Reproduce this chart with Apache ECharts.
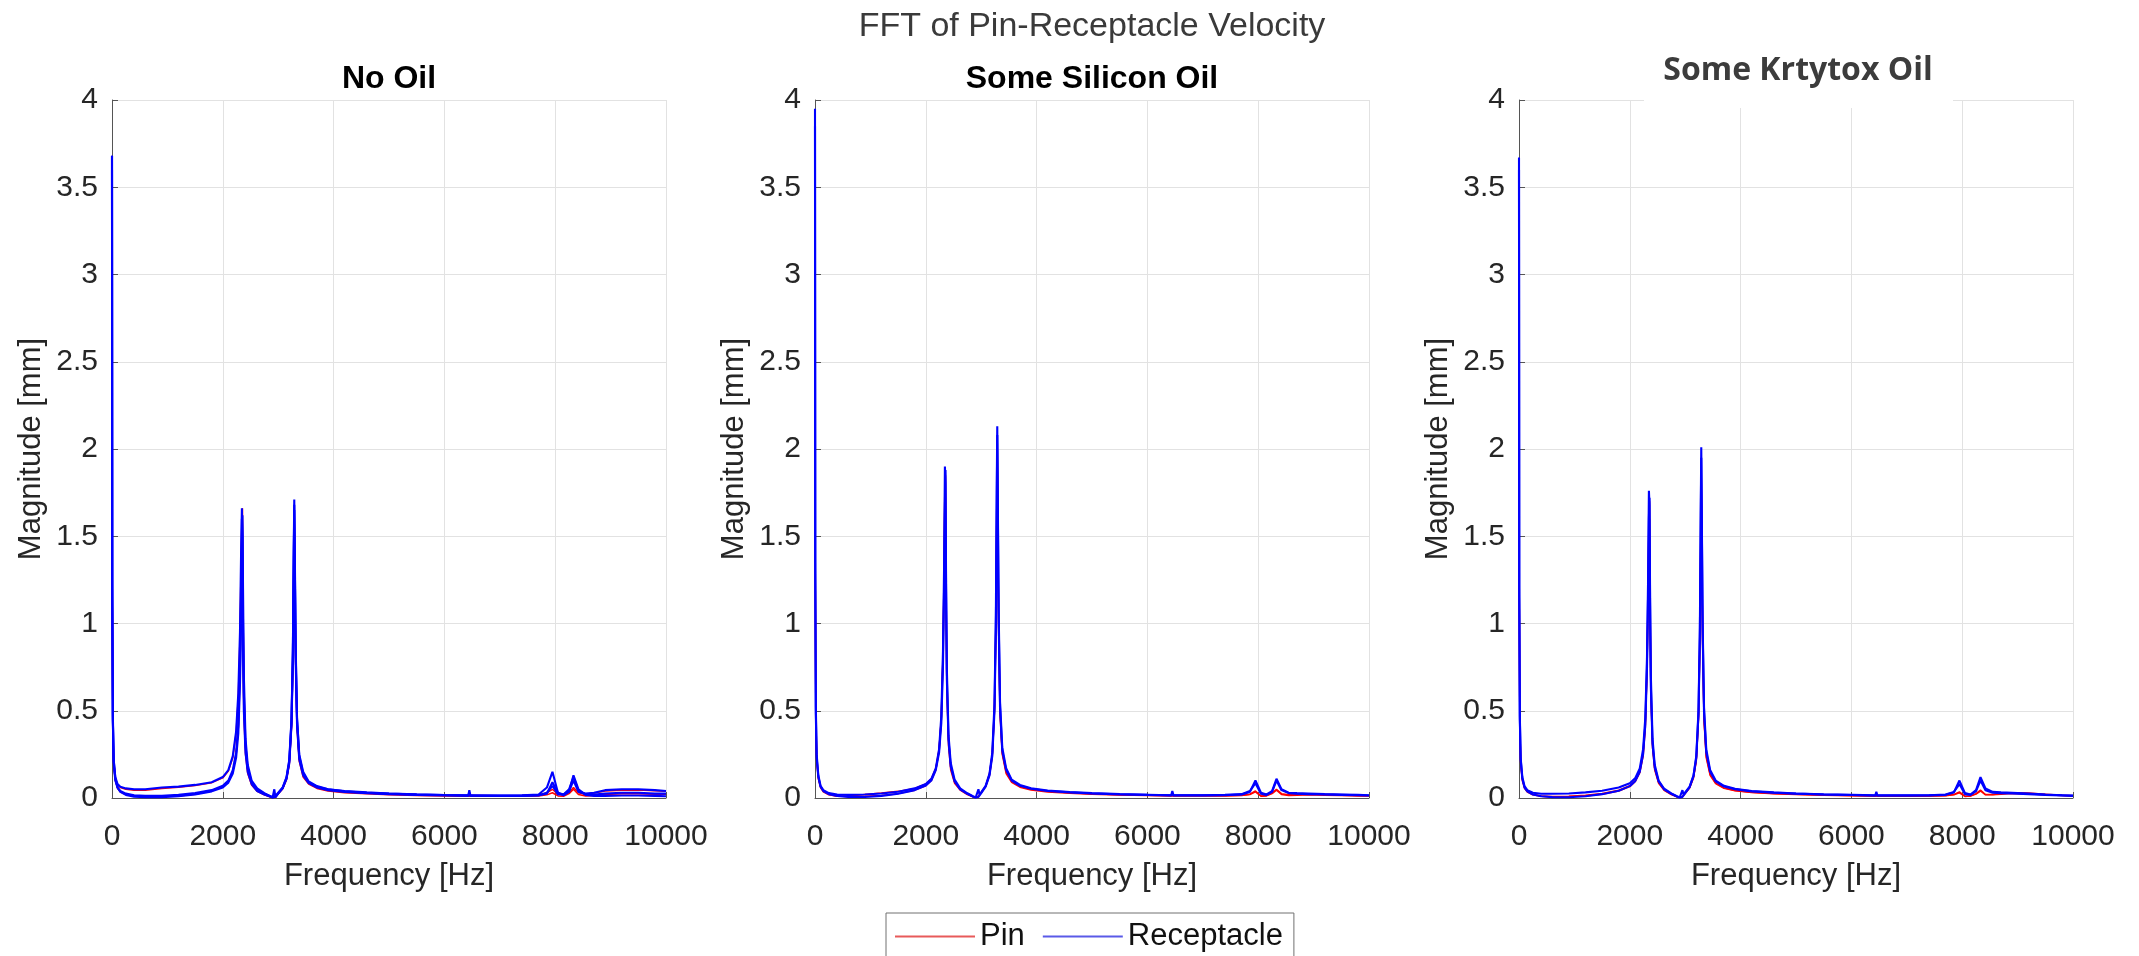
<!DOCTYPE html>
<html>
<head>
<meta charset="utf-8">
<script src="https://cdn.jsdelivr.net/npm/echarts@6/dist/echarts.min.js"></script>
<style>
html,body{margin:0;padding:0;background:#fff;}
#chart{width:2139px;height:956px;}
</style>
</head>
<body>
<div id="chart"></div>
<script>
// Frequency samples (Hz) shared by all traces
const freq = [0,5,15,30,60,100,150,250,400,600,
  900,1200,1500,1800,2000,2100,2180,2240,2280,2310,
  2330,2345,2355,2365,2380,2410,2450,2520,2620,2750,
  2850,2900,2930,2950,2970,3000,3080,3150,3200,3240,
  3265,3280,3290,3300,3315,3340,3380,3450,3550,3700,
  3900,4200,4600,5000,5500,6000,6430,6450,6470,7000,
  7400,7700,7850,7950,8050,8150,8250,8330,8420,8550,
  8700,8900,9200,9500,9800,10000];

const panelTitles = ['No Oil', 'Some Silicon Oil', 'Some Krtytox Oil'];
const xTicks = [0, 2000, 4000, 6000, 8000, 10000];
const yTicks = [0, 0.5, 1, 1.5, 2, 2.5, 3, 3.5, 4];

// Panel 1: No Oil
const noOilPinA = [3.62,1.15,0.42,0.2,0.1,0.055,0.035,0.02,0.012,0.008,
 0.008,0.012,0.022,0.04,0.065,0.095,0.15,0.25,0.4,0.72,
 1.12,1.55,1.66,1.1,0.62,0.3,0.16,0.085,0.045,0.02,
 0.008,0.002,0.003,0.008,0.016,0.026,0.055,0.11,0.2,0.42,
 0.8,1.3,1.55,1.25,0.78,0.4,0.21,0.12,0.08,0.055,
 0.04,0.03,0.024,0.019,0.015,0.012,0.01,0.012,0.01,0.01,
 0.01,0.012,0.018,0.03,0.012,0.01,0.025,0.05,0.02,0.012,
 0.015,0.02,0.025,0.025,0.022,0.022];
const noOilPinB = [3.55,1.1,0.44,0.21,0.115,0.075,0.06,0.05,0.045,0.045,
 0.055,0.062,0.072,0.088,0.115,0.155,0.23,0.37,0.58,0.92,
 1.35,1.6,1.2,0.82,0.48,0.25,0.14,0.075,0.038,0.018,
 0.007,0.003,0.01,0.004,0.014,0.024,0.052,0.105,0.19,0.4,
 0.76,1.25,1.58,1.3,0.82,0.43,0.23,0.135,0.088,0.062,
 0.048,0.036,0.028,0.023,0.019,0.016,0.014,0.014,0.014,0.013,
 0.014,0.018,0.03,0.05,0.02,0.018,0.03,0.06,0.03,0.022,
 0.028,0.04,0.045,0.046,0.042,0.038];
const noOilRecA = [3.68,1.2,0.45,0.2,0.1,0.06,0.04,0.025,0.015,0.012,
 0.012,0.018,0.028,0.045,0.07,0.1,0.16,0.26,0.42,0.75,
 1.15,1.6,1.5,1.0,0.6,0.3,0.17,0.09,0.05,0.025,
 0.01,0.003,0.002,0.01,0.02,0.03,0.06,0.12,0.22,0.45,
 0.85,1.4,1.71,1.3,0.8,0.42,0.22,0.13,0.085,0.06,
 0.045,0.035,0.028,0.022,0.018,0.015,0.013,0.045,0.013,0.012,
 0.012,0.015,0.03,0.07,0.02,0.02,0.05,0.12,0.04,0.02,
 0.02,0.025,0.03,0.03,0.025,0.025];
const noOilRecB = [3.6,1.1,0.45,0.22,0.12,0.08,0.065,0.055,0.05,0.05,
 0.06,0.065,0.075,0.09,0.12,0.16,0.24,0.38,0.6,0.95,
 1.4,1.66,1.25,0.85,0.5,0.26,0.15,0.08,0.04,0.02,
 0.008,0.004,0.05,0.004,0.015,0.025,0.055,0.11,0.2,0.42,
 0.8,1.3,1.65,1.35,0.85,0.45,0.24,0.14,0.09,0.065,
 0.05,0.038,0.03,0.025,0.02,0.017,0.015,0.015,0.015,0.014,
 0.015,0.02,0.06,0.15,0.03,0.02,0.04,0.1,0.035,0.025,
 0.03,0.045,0.05,0.05,0.045,0.04];
const noOilRecC = [3.68,1.25,0.48,0.22,0.11,0.06,0.035,0.018,0.008,0.004,
 0.005,0.01,0.02,0.038,0.06,0.088,0.14,0.23,0.37,0.65,
 1.0,1.35,1.62,1.2,0.7,0.34,0.19,0.1,0.055,0.028,
 0.012,0.004,0.001,0.006,0.015,0.026,0.058,0.115,0.21,0.44,
 0.83,1.35,1.68,1.4,0.88,0.46,0.25,0.15,0.095,0.068,
 0.05,0.04,0.032,0.026,0.021,0.017,0.014,0.03,0.014,0.013,
 0.013,0.016,0.025,0.09,0.03,0.015,0.035,0.13,0.05,0.018,
 0.012,0.012,0.014,0.014,0.012,0.01];

// Panel 2: Some Silicon Oil
const siliconPinA = [3.9,1.3,0.5,0.24,0.12,0.065,0.04,0.022,0.012,0.008,
 0.01,0.015,0.025,0.045,0.07,0.1,0.16,0.27,0.45,0.8,
 1.25,1.75,1.85,1.25,0.7,0.34,0.18,0.095,0.05,0.022,
 0.008,0.002,0.002,0.008,0.018,0.03,0.065,0.13,0.24,0.5,
 0.95,1.55,1.95,1.55,0.95,0.48,0.25,0.14,0.09,0.062,
 0.046,0.035,0.027,0.022,0.017,0.014,0.012,0.012,0.012,0.011,
 0.012,0.014,0.02,0.035,0.01,0.012,0.025,0.045,0.02,0.015,
 0.016,0.018,0.016,0.014,0.012,0.011];
const siliconPinB = [3.8,1.2,0.46,0.22,0.11,0.06,0.035,0.018,0.01,0.012,
 0.02,0.028,0.038,0.055,0.08,0.11,0.17,0.28,0.46,0.82,
 1.3,1.85,1.7,1.1,0.62,0.3,0.16,0.085,0.045,0.02,
 0.007,0.003,0.003,0.01,0.02,0.032,0.068,0.14,0.25,0.52,
 1.0,1.65,2.05,1.6,1.0,0.5,0.26,0.15,0.095,0.066,
 0.05,0.038,0.03,0.024,0.019,0.016,0.014,0.014,0.014,0.014,
 0.015,0.016,0.022,0.04,0.012,0.014,0.028,0.05,0.025,0.018,
 0.02,0.022,0.02,0.018,0.015,0.013];
const siliconRecA = [3.95,1.35,0.52,0.25,0.13,0.07,0.045,0.028,0.02,0.018,
 0.02,0.026,0.036,0.055,0.08,0.11,0.17,0.28,0.47,0.84,
 1.32,1.9,1.8,1.2,0.68,0.33,0.18,0.095,0.05,0.024,
 0.009,0.002,0.003,0.05,0.02,0.032,0.07,0.14,0.26,0.54,
 1.05,1.75,2.13,1.65,1.02,0.52,0.27,0.16,0.1,0.07,
 0.053,0.04,0.032,0.026,0.021,0.018,0.015,0.04,0.015,0.015,
 0.016,0.02,0.035,0.1,0.03,0.02,0.04,0.11,0.05,0.03,
 0.028,0.026,0.022,0.02,0.018,0.016];
const siliconRecB = [3.85,1.25,0.48,0.23,0.12,0.065,0.04,0.022,0.012,0.006,
 0.006,0.012,0.024,0.045,0.072,0.1,0.16,0.26,0.43,0.76,
 1.2,1.65,1.88,1.3,0.74,0.36,0.2,0.105,0.055,0.027,
 0.01,0.003,0.002,0.006,0.016,0.028,0.065,0.13,0.24,0.5,
 0.98,1.62,2.08,1.7,1.08,0.55,0.29,0.17,0.105,0.075,
 0.056,0.043,0.034,0.028,0.023,0.019,0.016,0.016,0.016,0.016,
 0.018,0.022,0.04,0.085,0.025,0.018,0.035,0.1,0.045,0.028,
 0.024,0.022,0.02,0.018,0.016,0.014];

// Panel 3: Some Krytox Oil
const krytoxPinA = [3.6,1.15,0.44,0.21,0.11,0.06,0.038,0.022,0.012,0.008,
 0.01,0.016,0.026,0.045,0.07,0.1,0.15,0.25,0.42,0.74,
 1.15,1.62,1.7,1.15,0.64,0.31,0.17,0.09,0.047,0.021,
 0.008,0.002,0.002,0.008,0.017,0.028,0.06,0.12,0.22,0.47,
 0.9,1.45,1.85,1.45,0.9,0.45,0.24,0.135,0.085,0.058,
 0.043,0.033,0.026,0.021,0.017,0.014,0.012,0.012,0.012,0.011,
 0.012,0.014,0.02,0.035,0.01,0.012,0.025,0.045,0.02,0.02,
 0.025,0.03,0.028,0.022,0.016,0.013];
const krytoxPinB = [3.5,1.1,0.42,0.2,0.1,0.055,0.034,0.018,0.01,0.006,
 0.008,0.012,0.022,0.04,0.065,0.095,0.145,0.24,0.4,0.72,
 1.12,1.58,1.6,1.08,0.6,0.29,0.16,0.085,0.044,0.02,
 0.007,0.002,0.002,0.007,0.016,0.026,0.057,0.115,0.21,0.45,
 0.87,1.4,1.78,1.4,0.87,0.44,0.23,0.13,0.082,0.056,
 0.042,0.032,0.025,0.02,0.016,0.013,0.011,0.011,0.011,0.01,
 0.011,0.013,0.018,0.03,0.009,0.011,0.022,0.04,0.018,0.018,
 0.022,0.026,0.024,0.019,0.014,0.012];
const krytoxRecA = [3.67,1.2,0.47,0.23,0.12,0.068,0.045,0.03,0.024,0.024,
 0.026,0.032,0.042,0.06,0.085,0.115,0.17,0.28,0.46,0.8,
 1.25,1.76,1.68,1.12,0.64,0.31,0.175,0.095,0.05,0.024,
 0.009,0.002,0.003,0.045,0.02,0.03,0.065,0.13,0.24,0.5,
 0.98,1.62,2.01,1.56,0.96,0.49,0.26,0.15,0.095,0.066,
 0.05,0.038,0.03,0.025,0.02,0.017,0.014,0.035,0.014,0.014,
 0.015,0.018,0.032,0.1,0.028,0.02,0.045,0.12,0.055,0.035,
 0.032,0.03,0.025,0.02,0.016,0.014];
const krytoxRecB = [3.6,1.15,0.45,0.22,0.11,0.06,0.038,0.02,0.01,0.005,
 0.004,0.01,0.022,0.042,0.068,0.098,0.15,0.25,0.42,0.74,
 1.16,1.6,1.72,1.22,0.7,0.34,0.19,0.1,0.053,0.026,
 0.01,0.003,0.002,0.006,0.016,0.028,0.062,0.125,0.23,0.48,
 0.93,1.55,1.95,1.6,1.0,0.52,0.28,0.16,0.1,0.07,
 0.053,0.04,0.032,0.026,0.021,0.018,0.015,0.015,0.015,0.015,
 0.016,0.02,0.035,0.08,0.022,0.018,0.04,0.1,0.045,0.03,
 0.028,0.026,0.022,0.018,0.015,0.012];

const pinTraces = [[noOilPinA, noOilPinB], [siliconPinA, siliconPinB], [krytoxPinA, krytoxPinB]];
const recTraces = [[noOilRecA, noOilRecB, noOilRecC], [siliconRecA, siliconRecB], [krytoxRecA, krytoxRecB]];

const FONT = "'Liberation Sans', Arial, Helvetica, sans-serif";
const gridLefts = [112, 815, 1519];
const gridWidth = 554;
const gridTop = 100;
const gridHeight = 698;

const grids = [], xAxes = [], yAxes = [], series = [];
const axisColor = '#555555';
const gridColor = '#e2e2e2';

for (let i = 0; i < 3; i++) {
  grids.push({left: gridLefts[i], top: gridTop, width: gridWidth, height: gridHeight, containLabel: false});
  xAxes.push({
    gridIndex: i, type: 'value', min: xTicks[0], max: xTicks[xTicks.length-1], interval: 2000,
    name: 'Frequency [Hz]', nameLocation: 'middle', nameGap: 63,
    nameTextStyle: {fontSize: 31, color: '#262626', fontFamily: FONT},
    axisLine: {show: true, onZero: false, lineStyle: {color: axisColor, width: 1}},
    axisTick: {show: true, inside: true, length: 6, lineStyle: {color: axisColor}},
    axisLabel: {fontSize: 30, color: '#262626', fontFamily: FONT, margin: 24,
      formatter: v => String(v), showMinLabel: true, showMaxLabel: true},
    splitLine: {show: true, lineStyle: {color: gridColor, width: 1}}
  });
  yAxes.push({
    gridIndex: i, type: 'value', min: yTicks[0], max: yTicks[yTicks.length-1], interval: 0.5,
    name: 'Magnitude [mm]', nameLocation: 'middle', nameGap: 65, nameRotate: 90,
    nameTextStyle: {fontSize: 31, color: '#262626', fontFamily: FONT},
    axisLine: {show: true, onZero: false, lineStyle: {color: axisColor, width: 1}},
    axisTick: {show: true, inside: true, length: 6, lineStyle: {color: axisColor}},
    axisLabel: {fontSize: 30, color: '#262626', fontFamily: FONT, margin: 14,
      formatter: v => String(v), showMinLabel: true, showMaxLabel: true},
    splitLine: {show: true, lineStyle: {color: gridColor, width: 1}}
  });
}
for (let i = 0; i < 3; i++) {
  pinTraces[i].forEach(arr => {
    series.push({
      name: 'Pin', type: 'line', xAxisIndex: i, yAxisIndex: i,
      data: freq.map((f, k) => [f, arr[k]]),
      showSymbol: false, symbol: 'none', smooth: false,
      lineStyle: {color: '#ff0000', width: 1.5}, itemStyle: {color: '#ff0000'},
      z: 2, silent: true
    });
  });
}
for (let i = 0; i < 3; i++) {
  recTraces[i].forEach(arr => {
    series.push({
      name: 'Receptacle', type: 'line', xAxisIndex: i, yAxisIndex: i,
      data: freq.map((f, k) => [f, arr[k]]),
      showSymbol: false, symbol: 'none', smooth: false,
      lineStyle: {color: '#0000ff', width: 2.1}, itemStyle: {color: '#0000ff'},
      z: 3, silent: true
    });
  });
}

const graphics = [
  {type: 'text', x: 1092, y: 27, z: 100,
    style: {text: 'FFT of Pin-Receptacle Velocity', font: '34px ' + FONT, fill: '#3a3a3a',
      align: 'center', verticalAlign: 'middle', textAlign: 'center', textVerticalAlign: 'middle'}},
  {type: 'text', x: 389, y: 79, z: 100,
    style: {text: panelTitles[0], font: 'bold 32px ' + FONT, fill: '#000000',
      align: 'center', verticalAlign: 'middle', textAlign: 'center', textVerticalAlign: 'middle'}},
  {type: 'text', x: 1092, y: 79, z: 100,
    style: {text: panelTitles[1], font: 'bold 32px ' + FONT, fill: '#000000',
      align: 'center', verticalAlign: 'middle', textAlign: 'center', textVerticalAlign: 'middle'}},
  {type: 'rect', shape: {x: 1644, y: 90, width: 309, height: 18}, z: 99,
    style: {fill: '#ffffff'}},
  {type: 'text', x: 1798, y: 71, z: 100,
    style: {text: panelTitles[2], font: "bold 32px 'Open Sans', sans-serif", fill: '#3c3c3c',
      align: 'center', verticalAlign: 'middle', textAlign: 'center', textVerticalAlign: 'middle'}}
];

const chart = echarts.init(document.getElementById('chart'), null, {renderer: 'canvas'});
chart.setOption({
  animation: false,
  backgroundColor: '#ffffff',
  grid: grids,
  xAxis: xAxes,
  yAxis: yAxes,
  series: series,
  legend: {
    data: [{name: 'Pin', itemStyle: {color: '#e85a5a'}}, {name: 'Receptacle', itemStyle: {color: '#5a5ae8'}}],
    left: 886, top: 913, orient: 'horizontal',
    icon: 'rect', itemWidth: 80, itemHeight: 2, itemGap: 18,
    padding: [8, 11, 24, 9],
    borderColor: '#707070', borderWidth: 1, backgroundColor: '#ffffff',
    textStyle: {fontSize: 31, color: '#111111', fontFamily: FONT},
    selectedMode: false
  },
  graphic: graphics
});
</script>
</body>
</html>
